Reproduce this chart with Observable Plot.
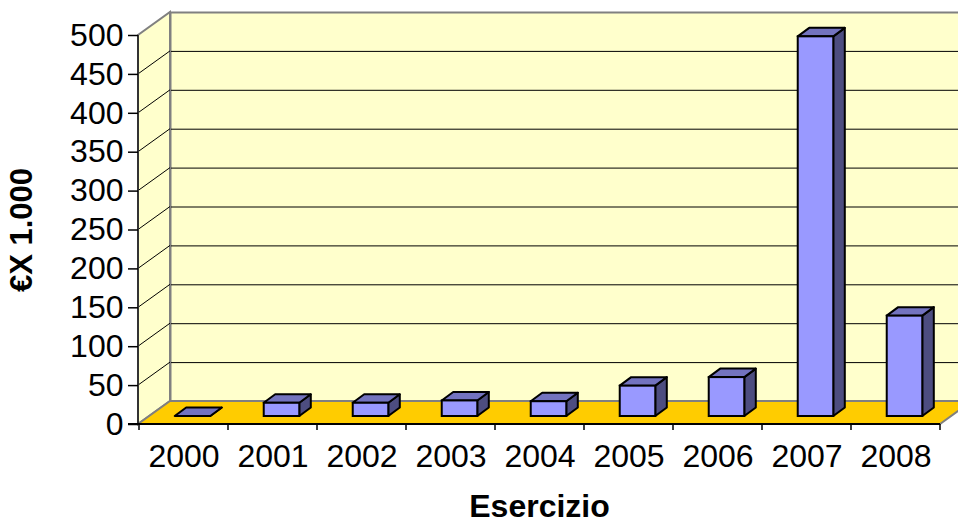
<!DOCTYPE html>
<html>
<head>
<meta charset="utf-8">
<script src="https://cdn.jsdelivr.net/npm/d3@7"></script>
<script src="https://cdn.jsdelivr.net/npm/@observablehq/plot@0.6"></script>
<style>
  html, body { margin: 0; padding: 0; background: #fff; overflow: hidden; }
  #chart svg { overflow: hidden; display: block; }
</style>
</head>
<body>
<div id="chart"></div>
<script>
// ---- data ----
const years = ["2000", "2001", "2002", "2003", "2004", "2005", "2006", "2007", "2008"];
const values = [0, 17, 17, 20, 19, 39, 50, 488, 129];
const yTicks = [0, 50, 100, 150, 200, 250, 300, 350, 400, 450, 500];
const yLabel = "€X 1.000";
const xLabel = "Esercizio";

const data = years.map((year, i) => ({year, value: values[i]}));

// ---- 3D look (pixel offsets) ----
const FLOOR = [32, -23];   // depth of the floor / walls
const FRONT = [9, -8];     // position of the bar front face inside the depth
const DEPTH = [11.5, -8.5];// depth of a bar
const BAR = 0.40;          // bar width as fraction of band

const W = 958, H = 526, ML = 138, MR = 18, MT = 35, MB = 102;
const bandW = (W - ML - MR) / years.length;

function bw(x) {
  if (x && typeof x.bandwidth === "function") return x.bandwidth();
  if (x && typeof x.bandwidth === "number") return x.bandwidth;
  return bandW;
}

// side wall, floor, axis lines and category ticks
function wallsAndFloor(index, {x, y}, values, dims) {
  const g = d3.create("svg:g");
  const x0 = dims.marginLeft, x1 = dims.width - dims.marginRight;
  const yb = y(yTicks[0]), yt = y(yTicks[yTicks.length - 1]);
  const [fx, fy] = FLOOR;
  // side wall
  g.append("path")
    .attr("d", `M${x0},${yb}L${x0},${yt}L${x0 + fx},${yt + fy}L${x0 + fx},${yb + fy}Z`)
    .attr("fill", "#FFFFCC").attr("stroke", "#808080").attr("stroke-width", 2);
  for (const t of yTicks.slice(1, -1)) {
    g.append("line")
      .attr("x1", x0).attr("y1", y(t)).attr("x2", x0 + fx).attr("y2", y(t) + fy)
      .attr("stroke", "#000").attr("stroke-width", 1);
  }
  // floor
  g.append("path")
    .attr("d", `M${x0},${yb}L${x1},${yb}L${x1 + fx},${yb + fy}L${x0 + fx},${yb + fy}Z`)
    .attr("fill", "#FFCC00").attr("stroke", "#808080").attr("stroke-width", 2);
  // axis lines
  g.append("line").attr("x1", x0).attr("x2", x0).attr("y1", yt).attr("y2", yb)
    .attr("stroke", "#333").attr("stroke-width", 2);
  g.append("line").attr("x1", x0 - 10).attr("x2", x1).attr("y1", yb).attr("y2", yb)
    .attr("stroke", "#000").attr("stroke-width", 2);
  // category boundary ticks
  const b = bw(x);
  const bounds = years.map(d => x(d)).concat([x(years[years.length - 1]) + b]);
  for (const bx of bounds) {
    g.append("line").attr("x1", bx).attr("x2", bx).attr("y1", yb).attr("y2", yb + 6)
      .attr("stroke", "#000").attr("stroke-width", 1.5);
  }
  return g.node();
}

// top and side faces of each bar
function barFaces(index, {x, y}, values, dims) {
  const g = d3.create("svg:g")
    .attr("stroke", "#000").attr("stroke-width", 2).attr("stroke-linejoin", "round");
  const b = bw(x);
  const [ddx, ddy] = DEPTH;
  for (const d of data) {
    const left = x(d.year) + b / 2 - b * BAR / 2 + FRONT[0];
    const right = left + b * BAR;
    const top = y(d.value) + FRONT[1];
    const bot = y(0) + FRONT[1];
    g.append("path")
      .attr("d", `M${right},${top}L${right + ddx},${top + ddy}L${right + ddx},${bot + ddy}L${right},${bot}Z`)
      .attr("fill", "#4D4D80");
    g.append("path")
      .attr("d", `M${left},${top}L${right},${top}L${right + ddx},${top + ddy}L${left + ddx},${top + ddy}Z`)
      .attr("fill", "#7373BF");
  }
  return g.node();
}

const inset = bandW * (1 - BAR) / 2;

const chart = Plot.plot({
  width: W,
  height: H,
  marginLeft: ML,
  marginRight: MR,
  marginTop: MT,
  marginBottom: MB,
  style: {fontFamily: "'Liberation Sans', Arial, sans-serif", background: "#fff", color: "#000"},
  x: {type: "band", domain: years, padding: 0, label: null},
  y: {domain: [0, 500], label: null},
  marks: [
    // back wall
    Plot.frame({fill: "#FFFFCC", stroke: "#808080", strokeWidth: 2, dx: FLOOR[0], dy: FLOOR[1]}),
    // back wall gridlines
    Plot.ruleY(yTicks.slice(1, -1), {stroke: "#000", strokeWidth: 1, dx: FLOOR[0], dy: FLOOR[1]}),
    wallsAndFloor,
    Plot.axisY({ticks: yTicks, tickSize: 10, tickPadding: 5, fontSize: 32, label: null, stroke: "#000", strokeWidth: 1.5}),
    Plot.axisX({tickSize: 0, tickPadding: 20, fontSize: 32, label: null}),
    barFaces,
    Plot.barY(data, {x: "year", y: "value", fill: "#9999FF", stroke: "#000", strokeWidth: 2,
      insetLeft: inset, insetRight: inset, dx: FRONT[0], dy: FRONT[1]}),
    Plot.text([yLabel], {text: d => d, frameAnchor: "left", dx: -116, rotate: -90,
      fontSize: 31, fontWeight: "bold", textAnchor: "middle", lineAnchor: "middle", fill: "#000"}),
    Plot.text([xLabel], {text: d => d, frameAnchor: "bottom", dy: 82,
      fontSize: 32, fontWeight: "bold", textAnchor: "middle", lineAnchor: "middle", fill: "#000"})
  ]
});
document.getElementById("chart").appendChild(chart);
</script>
</body>
</html>
